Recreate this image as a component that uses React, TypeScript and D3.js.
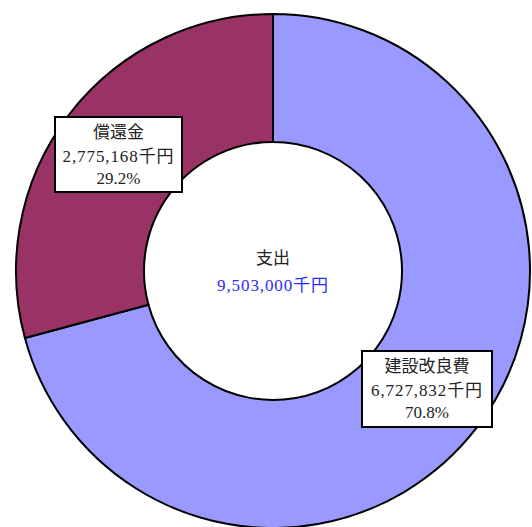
import React from "react";
import * as d3 from "d3";

const categories = ["建設改良費", "償還金"];
const values = [6727832, 2775168];
const percents = ["70.8%", "29.2%"];
const colors = ["#9999FF", "#993366"];
const totalLabel = "支出";
const totalValue = 9503000;

const W = 532;
const H = 527;
const cx = 273;
const cy = 271;
const R = 257;
const r = 129;

const fmt = d3.format(",");
const FONT = "'Liberation Serif', 'Noto Sans CJK JP', serif";

export default function App() {
  const pie = d3.pie<number>().sort(null).startAngle(0).endAngle(2 * Math.PI)(values);
  const arc = d3.arc<d3.PieArcDatum<number>>().innerRadius(r).outerRadius(R);
  const boxes = [
    { x: 362, y: 351, w: 130, h: 76 },
    { x: 55, y: 117, w: 127, h: 75 },
  ];
  return (
    <svg width={W} height={H} style={{ position: "absolute", left: 0, top: 0 }}>
      <rect width={W} height={H} fill="#fff" />
      <g transform={`translate(${cx},${cy})`}>
        {pie.map((d, i) => (
          <path key={i} d={arc(d) || ""} fill={colors[i]} stroke="#000" strokeWidth={2} />
        ))}
      </g>
      <text x={cx} y={264} textAnchor="middle" fontFamily={FONT} fontSize={17} fill="#222">
        {totalLabel}
      </text>
      <text x={cx} y={291} textAnchor="middle" fontFamily={FONT} fontSize={17} letterSpacing={0.9} fill="#2a2aff">
        {fmt(totalValue) + "千円"}
      </text>
      {boxes.map((b, i) => {
        const mx = b.x + b.w / 2;
        return (
          <g key={i}>
            <rect x={b.x} y={b.y} width={b.w} height={b.h} fill="#fff" stroke="#000" strokeWidth={2} />
            <text x={mx} y={b.y + 21} textAnchor="middle" fontFamily={FONT} fontSize={17} fill="#222">
              {categories[i]}
            </text>
            <text x={mx} y={b.y + 45} textAnchor="middle" fontFamily={FONT} fontSize={17} letterSpacing={0.9} fill="#222">
              {fmt(values[i]) + "千円"}
            </text>
            <text x={mx} y={b.y + 67} textAnchor="middle" fontFamily={FONT} fontSize={17} fill="#222">
              {percents[i]}
            </text>
          </g>
        );
      })}
    </svg>
  );
}
